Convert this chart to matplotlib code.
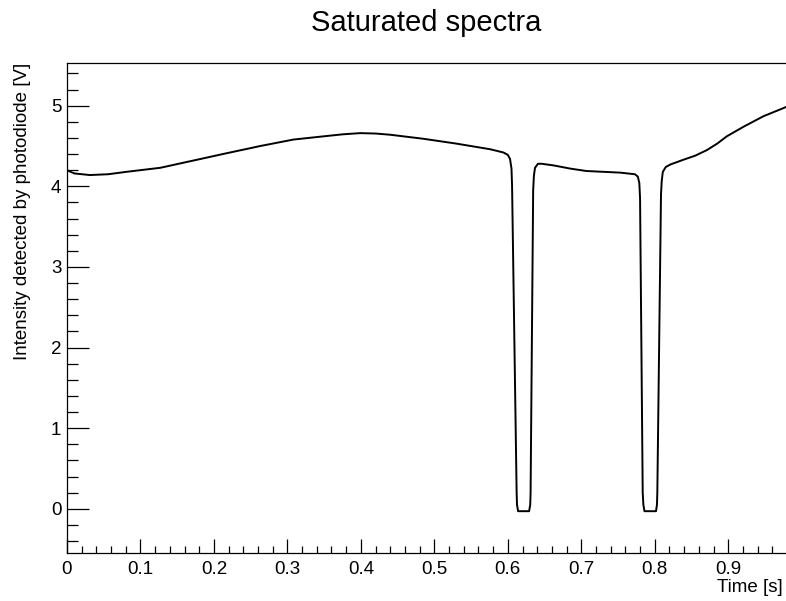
import matplotlib
matplotlib.use("Agg")
import matplotlib.pyplot as plt
from matplotlib.ticker import MultipleLocator, FormatStrFormatter

plt.rcParams['font.family'] = ['Liberation Sans', 'DejaVu Sans']

time_s = [0.000, 0.010, 0.031, 0.056, 0.081, 0.127, 0.172, 0.217, 0.263, 0.308,
          0.349, 0.375, 0.399, 0.420, 0.440, 0.485, 0.530, 0.576, 0.594, 0.600,
          0.603, 0.605, 0.6058, 0.612, 0.6125, 0.614, 0.629, 0.6305, 0.631, 0.6345,
          0.6355, 0.637, 0.641, 0.646, 0.662, 0.685, 0.707, 0.730, 0.753, 0.773,
          0.777, 0.779, 0.7800, 0.7836, 0.7845, 0.786, 0.8017, 0.803, 0.8035, 0.8085,
          0.8095, 0.811, 0.815, 0.821, 0.839, 0.855, 0.871, 0.885, 0.898, 0.921,
          0.948, 0.975, 0.980]
intensity_v = [4.20, 4.16, 4.14, 4.15, 4.18, 4.23, 4.32, 4.41, 4.50, 4.58,
               4.62, 4.645, 4.66, 4.655, 4.64, 4.59, 4.53, 4.46, 4.42, 4.39,
               4.34, 4.22, 4.00, 0.20, 0.05, -0.03, -0.03, 0.05, 0.20, 3.95,
               4.13, 4.23, 4.28, 4.28, 4.26, 4.22, 4.19, 4.18, 4.17, 4.15,
               4.12, 4.04, 3.85, 0.20, 0.05, -0.03, -0.03, 0.05, 0.20, 3.90,
               4.07, 4.18, 4.24, 4.27, 4.33, 4.38, 4.45, 4.53, 4.62, 4.74,
               4.87, 4.97, 4.99]

W, H = 786, 601
fig = plt.figure(figsize=(W / 100, H / 100), dpi=100)
left_px, right_px, top_px, bottom_px = 67, 787, 63, 552.7
ax = fig.add_axes([left_px / W, (H - bottom_px) / H,
                   (right_px - left_px) / W, (bottom_px - top_px) / H])

ax.plot(time_s, intensity_v, color='black', lw=1.4)
ax.set_xlim(0, 0.98)
ax.set_ylim(-0.545, 5.53)

ax.xaxis.set_major_locator(MultipleLocator(0.1))
ax.xaxis.set_minor_locator(MultipleLocator(0.02))
ax.yaxis.set_major_locator(MultipleLocator(1))
ax.yaxis.set_minor_locator(MultipleLocator(0.2))
ax.xaxis.set_major_formatter(FormatStrFormatter('%g'))
ax.yaxis.set_major_formatter(FormatStrFormatter('%g'))

ax.tick_params(axis='x', which='major', direction='in', length=10, width=0.9,
               labelsize=13.5, pad=6)
ax.tick_params(axis='x', which='minor', direction='in', length=5, width=0.9)
ax.tick_params(axis='y', which='major', direction='in', length=15.5, width=0.9,
               labelsize=13.5, pad=4)
ax.tick_params(axis='y', which='minor', direction='in', length=7.7, width=0.9)
ax.spines['right'].set_visible(False)
for s in ['left', 'bottom', 'top']:
    ax.spines[s].set_linewidth(0.9)

fig.text(426 / W, (H - 31) / H, 'Saturated spectra', ha='center',
         va='baseline', fontsize=21)
fig.text(783 / W, (H - 579) / H, 'Time [s]', ha='right', va='top',
         fontsize=13.5)
fig.text(22.5 / W, (H - 63) / H, 'Intensity detected by photodiode [V]',
         rotation=90, ha='center', va='top', fontsize=13.5)

fig.savefig('out.png', dpi=100)
